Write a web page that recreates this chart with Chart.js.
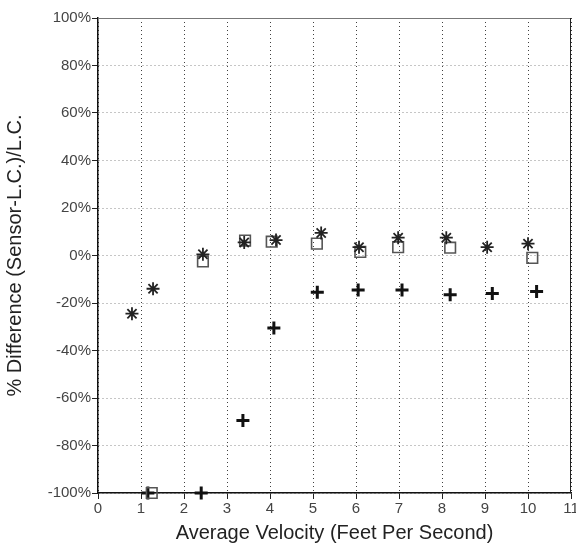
<!DOCTYPE html>
<html>
<head>
<meta charset="utf-8">
<script src="https://cdn.jsdelivr.net/npm/chart.js@4/dist/chart.umd.min.js"></script>
<style>
html,body{margin:0;padding:0;background:#fff;}
#wrap{width:576px;height:548px;}
</style>
</head>
<body>
<div id="wrap"><canvas id="c" width="576" height="548"></canvas></div>
<script>
const velStar = [0.79, 1.28, 2.44, 3.4, 4.14, 5.19, 6.07, 6.98, 8.1, 9.05, 10.0];
const diffStar = [-24.5, -14, 0.5, 5.5, 6.5, 9.5, 3.5, 7.5, 7.5, 3.5, 5];

const velSquare = [1.25, 2.44, 3.42, 4.04, 5.09, 6.1, 6.98, 8.19, 10.1];
const diffSquare = [-100, -2.5, 6.3, 5.8, 5, 1.5, 3.5, 3.3, -1];

const velPlus = [1.16, 2.4, 3.37, 4.09, 5.1, 6.05, 7.07, 8.19, 9.17, 10.2];
const diffPlus = [-100, -100, -69.5, -30.5, -15.5, -14.5, -14.5, -16.5, -16, -15.2];

const xTicks = [0,1,2,3,4,5,6,7,8,9,10,11];
const yTicks = [-100,-80,-60,-40,-20,0,20,40,60,80,100];

const toPts = (xs, ys) => xs.map((x, i) => ({x: x, y: ys[i]}));

const frame = {
  id: 'frame',
  afterDraw(chart) {
    const a = chart.chartArea, ctx = chart.ctx;
    ctx.save();
    ctx.strokeStyle = '#777';
    ctx.lineWidth = 1;
    ctx.beginPath();
    ctx.moveTo(a.left, a.top + 0.5);
    ctx.lineTo(a.right, a.top + 0.5);
    ctx.stroke();
    ctx.strokeStyle = '#222';
    ctx.beginPath();
    ctx.moveTo(a.right - 0.5, a.top);
    ctx.lineTo(a.right - 0.5, a.bottom);
    ctx.stroke();
    ctx.restore();
  }
};

new Chart(document.getElementById('c'), {
  type: 'scatter',
  data: {
    datasets: [
      {
        label: 'Star',
        data: toPts(velStar, diffStar),
        pointStyle: 'star',
        radius: 6.5,
        borderColor: '#222',
        backgroundColor: '#222',
        borderWidth: 1.8,
        clip: false
      },
      {
        label: 'Square',
        data: toPts(velSquare, diffSquare),
        pointStyle: 'rect',
        radius: 7.5,
        borderColor: '#555',
        backgroundColor: 'rgba(0,0,0,0)',
        borderWidth: 1.6,
        clip: false
      },
      {
        label: 'Plus',
        data: toPts(velPlus, diffPlus),
        pointStyle: 'cross',
        radius: 6.5,
        borderColor: '#111',
        backgroundColor: '#111',
        borderWidth: 3,
        clip: false
      }
    ]
  },
  options: {
    responsive: false,
    animation: false,
    layout: { autoPadding: false, padding: { top: 18, right: 5, left: 0, bottom: 0 } },
    plugins: { legend: { display: false }, tooltip: { enabled: false } },
    scales: {
      x: {
        type: 'linear',
        min: 0, max: 11,
        afterBuildTicks(s) { s.ticks = xTicks.map(v => ({value: v})); },
        afterFit(s) { s.height = 55; s.paddingLeft = 0; s.paddingRight = 0; },
        ticks: { color: '#444', font: { family: 'Liberation Sans', size: 15 }, padding: 1, maxRotation: 0 },
        grid: { color: 'rgba(0,0,0,0.75)', lineWidth: 1, tickLength: 6, tickColor: '#222', tickWidth: 1 },
        border: { color: '#111', width: 1.5, dash: [1, 3] },
        title: { display: true, text: 'Average Velocity (Feet Per Second)', color: '#222',
                 font: { family: 'Liberation Sans', size: 20 }, padding: { top: 0, bottom: 3 } }
      },
      y: {
        type: 'linear',
        min: -100, max: 100,
        afterBuildTicks(s) { s.ticks = yTicks.map(v => ({value: v})); },
        afterFit(s) { s.width = 98; s.paddingTop = 0; s.paddingBottom = 0; },
        ticks: { color: '#444', font: { family: 'Liberation Sans', size: 15 }, padding: 1,
                 callback: v => v + '%' },
        grid: { color: 'rgba(0,0,0,0.45)', lineWidth: 1, tickLength: 6, tickColor: '#222', tickWidth: 1 },
        border: { color: '#111', width: 1.5, dash: [1, 3] },
        title: { display: true, text: '% Difference (Sensor-L.C.)/L.C.', color: '#222',
                 font: { family: 'Liberation Sans', size: 20 }, padding: { top: 3, bottom: 0 } }
      }
    }
  },
  plugins: [frame]
});
</script>
</body>
</html>
